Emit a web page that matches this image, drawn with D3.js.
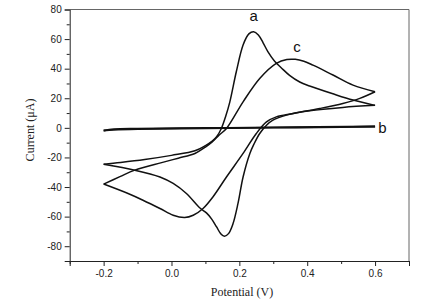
<!DOCTYPE html>
<html>
<head>
<meta charset="utf-8">
<script src="https://cdn.jsdelivr.net/npm/d3@7"></script>
<style>
  html, body { margin: 0; padding: 0; background: #fff; }
  #chart { width: 442px; height: 303px; }
</style>
</head>
<body>
<div id="chart"></div>
<script>
// cyclic voltammograms, [potential (V), current (uA)]
// each curve is split into the forward sweep and the return sweep
const aForward = [[-0.2,-24.6],[-0.15,-23.4],[-0.079,-21.4],[0.0,-18.6],[0.069,-15.5],[0.1,-12],[0.12,-9],[0.133,-6],
  [0.147,-0.4],[0.16,8],[0.172,17.6],[0.191,37.9],[0.211,56],[0.228,63.5],[0.242,65],[0.256,62.8],[0.27,57.5],
  [0.284,51.5],[0.304,45],[0.324,40.5],[0.348,35.5],[0.378,31],[0.407,28.3],[0.476,23],[0.535,18.8],[0.6,15.2]];
const aReturn = [[0.6,15.2],[0.505,13.8],[0.407,11.5],[0.339,8.6],[0.299,5.2],[0.28,1.8],[0.26,-3.8],[0.243,-11],
  [0.231,-17.3],[0.211,-33.2],[0.196,-51.1],[0.181,-65],[0.168,-71.5],[0.156,-73.3],[0.145,-71.5],[0.133,-67],
  [0.118,-61.5],[0.103,-57.5],[0.083,-54],[0.044,-44.4],[0.005,-37.6],[-0.034,-33.2],[-0.108,-28.6],[-0.2,-24.6]];

const cForward = [[-0.2,-38],[-0.152,-33],[-0.108,-28.6],[-0.029,-23.5],[0.02,-20.5],[0.069,-17.3],[0.1,-13],
  [0.12,-9.5],[0.14,-5],[0.162,-0.4],[0.211,17.6],[0.26,33.4],[0.309,43.6],[0.34,46.2],[0.365,46.3],[0.39,45],
  [0.417,42.4],[0.476,35.7],[0.535,28.9],[0.6,24.4]];
const cReturn = [[0.6,24.4],[0.555,19.9],[0.505,16.5],[0.437,13.1],[0.358,9.7],[0.309,7.4],[0.28,4],[0.25,-3.8],
  [0.211,-17.3],[0.162,-33.2],[0.122,-46.7],[0.093,-54.5],[0.064,-59.1],[0.039,-60.6],[0.005,-59.1],
  [-0.034,-54.5],[-0.084,-48.9],[-0.128,-44.4],[-0.2,-38]];

const bForward = [[-0.2,-1.8],[-0.17,-0.9],[-0.1,-0.5],[0.1,-0.1],[0.3,0.3],[0.6,0.9]];
const bReturn = [[0.6,0.9],[0.5,0.5],[0.3,0.1],[0.1,-0.3],[-0.1,-0.8],[-0.17,-1.3],[-0.2,-1.8]];

const curveLabels = [
  {name: "a", v: 0.242, i: 72},
  {name: "c", v: 0.37, i: 51.5},
  {name: "b", v: 0.622, i: -3.8}
];

const xTicks = [-0.2, 0.0, 0.2, 0.4, 0.6];
const xTickLabels = ["-0.2", "0.0", "0.2", "0.4", "0.6"];
const xMinorTicks = [-0.3, -0.1, 0.1, 0.3, 0.5, 0.7];
const yTicks = [-80, -60, -40, -20, 0, 20, 40, 60, 80];
const yTickLabels = ["-80", "-60", "-40", "-20", "0", "20", "40", "60", "80"];
const yMinorTicks = [-90, -70, -50, -30, -10, 10, 30, 50, 70];

const W = 442, H = 303;
const plotLeft = 69.7, plotRight = 409, plotTop = 9.5, plotBottom = 261;

const svg = d3.select("#chart").append("svg")
    .attr("width", W)
    .attr("height", H);

const x = d3.scaleLinear().domain([-0.3, 0.7]).range([plotLeft, plotRight]);
const y = d3.scaleLinear().domain([-90, 80]).range([plotBottom, plotTop]);

const sans = "Liberation Sans, Arial, sans-serif";
const serif = "Liberation Serif, Times New Roman, serif";

// frame (top and right)
svg.append("path")
    .attr("d", `M${plotLeft},${plotTop}H${plotRight}V${plotBottom}`)
    .attr("fill", "none")
    .attr("stroke", "#666")
    .attr("stroke-width", 1);

// bottom axis
const xAxis = svg.append("g")
    .attr("transform", `translate(0,${plotBottom})`)
    .call(d3.axisBottom(x).tickValues(xTicks).tickSize(5).tickPadding(4)
        .tickFormat((d, k) => xTickLabels[k]));
xAxis.selectAll(".tick line").attr("stroke", "#222");
xAxis.select(".domain").attr("stroke", "#222");
xAxis.selectAll("text").attr("font-family", sans).attr("font-size", "10px").attr("fill", "#222");

svg.append("g")
    .attr("transform", `translate(0,${plotBottom})`)
    .call(d3.axisBottom(x).tickValues(xMinorTicks).tickSize(3).tickFormat(""))
    .call(g => g.select(".domain").remove())
    .selectAll("line").attr("stroke", "#222");

// left axis
const yAxis = svg.append("g")
    .attr("transform", `translate(${plotLeft},0)`)
    .call(d3.axisLeft(y).tickValues(yTicks).tickSize(5).tickPadding(3)
        .tickFormat((d, k) => yTickLabels[k]));
yAxis.selectAll(".tick line").attr("stroke", "#222");
yAxis.select(".domain").attr("stroke", "#222");
yAxis.selectAll("text").attr("font-family", sans).attr("font-size", "10px").attr("fill", "#222");

svg.append("g")
    .attr("transform", `translate(${plotLeft},0)`)
    .call(d3.axisLeft(y).tickValues(yMinorTicks).tickSize(3).tickFormat(""))
    .call(g => g.select(".domain").remove())
    .selectAll("line").attr("stroke", "#222");

// axis titles
svg.append("text")
    .attr("x", 242).attr("y", 296)
    .attr("text-anchor", "middle")
    .attr("font-family", serif).attr("font-size", "12px").attr("fill", "#222")
    .text("Potential (V)");

svg.append("text")
    .attr("transform", "translate(34,130) rotate(-90)")
    .attr("text-anchor", "middle")
    .attr("font-family", serif).attr("font-size", "12px").attr("fill", "#222")
    .text("Current (\u03BCA)");

// curves
const line = d3.line()
    .x(d => x(d[0]))
    .y(d => y(d[1]))
    .curve(d3.curveCatmullRom.alpha(0.5));

const segments = [
  {data: aForward, w: 1.5}, {data: aReturn, w: 1.5},
  {data: cForward, w: 1.5}, {data: cReturn, w: 1.5},
  {data: bForward, w: 1.8}, {data: bReturn, w: 1.8}
];

svg.append("g").selectAll("path")
    .data(segments)
    .join("path")
    .attr("fill", "none")
    .attr("stroke", "#111")
    .attr("stroke-width", d => d.w)
    .attr("stroke-linejoin", "round")
    .attr("d", d => line(d.data));

// curve letters
svg.append("g").selectAll("text")
    .data(curveLabels)
    .join("text")
    .attr("x", d => x(d.v))
    .attr("y", d => y(d.i))
    .attr("text-anchor", "middle")
    .attr("font-family", sans).attr("font-size", "15px").attr("fill", "#111")
    .text(d => d.name);
</script>
</body>
</html>
